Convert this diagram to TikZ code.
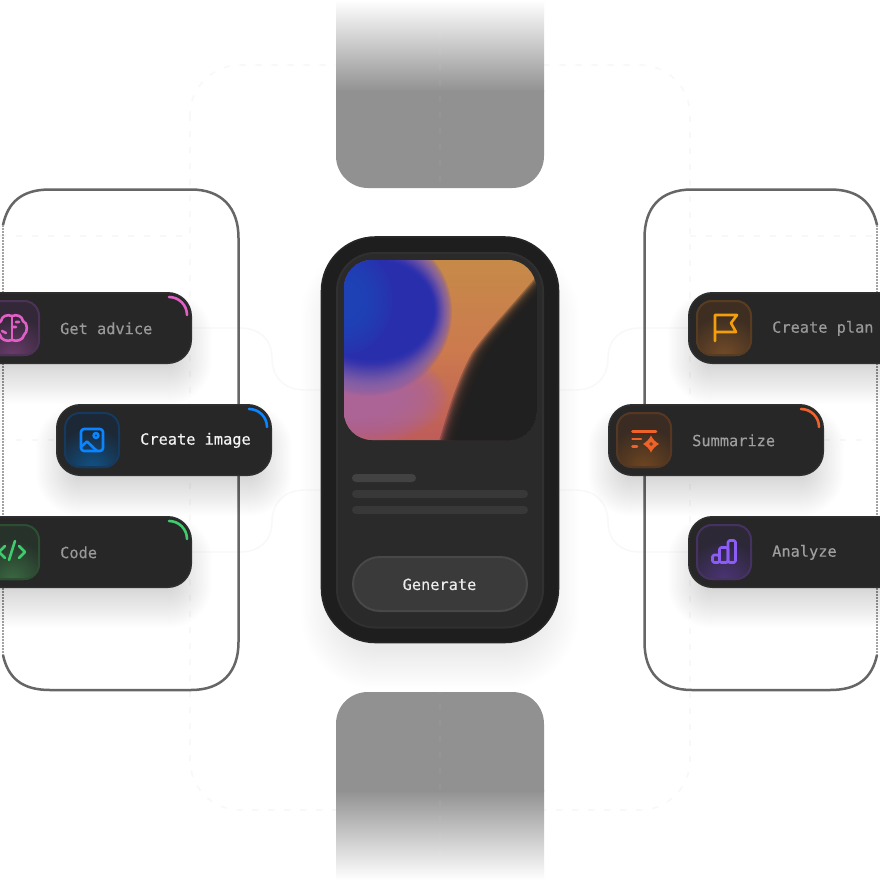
\documentclass[tikz,border=0pt]{standalone}
\usepackage{fontspec}
\setmonofont[FakeBold=0.25]{DejaVu Sans Mono}
\usetikzlibrary{shapes.geometric}
\definecolor{cardfill}{HTML}{272727}
\definecolor{cardedge}{HTML}{2F2F2F}
\definecolor{framecol}{HTML}{666666}
\definecolor{faintcol}{HTML}{F8F8F8}
\definecolor{blockcol}{HTML}{919191}
\definecolor{phoneout}{HTML}{1E1E1E}
\definecolor{phoneedge}{HTML}{262626}
\definecolor{phonein}{HTML}{2A2A2A}
\definecolor{phoneinedge}{HTML}{303030}
\definecolor{btnfill}{HTML}{3A3A3A}
\definecolor{btnedge}{HTML}{484848}
\definecolor{darkimg}{HTML}{202020}
\definecolor{cpink}{HTML}{E25FC6}
\definecolor{cblue}{HTML}{0A84FF}
\definecolor{cgreen}{HTML}{3FCB6E}
\definecolor{cred}{HTML}{F0622A}
\definecolor{camber}{HTML}{F59E0B}
\definecolor{cviolet}{HTML}{8B5CF6}
\definecolor{imgtop}{RGB}{198,138,72}
\definecolor{imgmid}{RGB}{204,122,78}
\definecolor{imgbot}{RGB}{190,92,90}
\definecolor{imgpink}{RGB}{172,100,160}
\definecolor{imghalo}{RGB}{128,96,170}
\definecolor{imgblue}{RGB}{32,44,178}
\definecolor{imgleft}{RGB}{30,76,190}
\definecolor{lineA}{RGB}{66,66,66}
\definecolor{lineB}{RGB}{56,56,56}
\definecolor{pinkA}{RGB}{50,40,56}\definecolor{pinkB}{RGB}{76,50,86}\definecolor{pinkC}{RGB}{108,60,108}
\definecolor{blueA}{RGB}{28,40,54}\definecolor{blueB}{RGB}{22,58,94}\definecolor{blueC}{RGB}{16,82,136}
\definecolor{greenA}{RGB}{38,50,42}\definecolor{greenB}{RGB}{46,78,52}\definecolor{greenC}{RGB}{58,106,66}
\definecolor{flagA}{RGB}{62,46,34}\definecolor{flagB}{RGB}{88,60,34}\definecolor{flagC}{RGB}{116,76,40}
\definecolor{sumA}{RGB}{58,44,34}\definecolor{sumB}{RGB}{86,56,34}\definecolor{sumC}{RGB}{112,70,32}
\definecolor{violA}{RGB}{44,40,54}\definecolor{violB}{RGB}{70,50,96}\definecolor{violC}{RGB}{76,52,120}
\tikzset{
  x=1pt,y=-1pt,
  card/.style={fill=cardfill,draw=cardedge,line width=1.5pt},
  lbl/.style={anchor=west,inner sep=0pt,text=#1,font=\ttfamily\fontsize{15.3}{15.3}\selectfont},
  accent/.style={draw=#1,line width=2.6pt,line cap=round},
  glyph/.style={draw=#1,line width=2.6pt,line cap=round,line join=round},
  faint/.style={draw=faintcol,line width=1.4pt},
  fdash/.style={draw=faintcol,line width=1.6pt,dash pattern=on 6pt off 10pt},
}
% soft shadow under a rounded rectangle
\newcommand{\softshadow}[7]{% x1 y1 x2 y2 radius dy opacity
  \foreach \ss in {-18,-16,...,20}{
    \pgfmathsetmacro{\rr}{max(#5+\ss,2)}
    \fill[black,opacity=#7,rounded corners=\rr pt]
      (#1-\ss,#2-\ss+#6) rectangle (#3+\ss,#4+\ss+#6);
  }
}
% left, top, label, text colour, icon base, icon edge, icon glow, node name
\newcommand{\featcard}[8]{%
  \softshadow{#1}{#2}{#1+216}{#2+72}{24}{20}{0.0085}
  \fill[card,rounded corners=23.5pt] (#1+.75,#2+.75) rectangle (#1+215.25,#2+71.25);
  \begin{scope}
    \clip[rounded corners=16pt] (#1+8,#2+8) rectangle (#1+64,#2+64);
    \fill[#5] (#1+8,#2+8) rectangle (#1+64,#2+64);
    \shade[inner color=#7,outer color=#5] (#1+36,#2+64) circle (40pt);
  \end{scope}
  \draw[#6,line width=2pt,rounded corners=15pt] (#1+9,#2+9) rectangle (#1+63,#2+63);
  \node[lbl=#4] (#8) at (#1+84,#2+36.4) {#3};
}
\begin{document}
\begin{tikzpicture}
\useasboundingbox (0,0) rectangle (880,880);
\clip (0,0) rectangle (880,880);
\fill[white] (0,0) rectangle (880,880);

% faint construction lines
\draw[fdash,rounded corners=50pt] (190,65) rectangle (690,810);
\draw[fdash] (0,236) -- (190,236);
\draw[fdash] (690,236) -- (880,236);
\draw[fdash] (0,440) -- (56,440);
\draw[fdash] (824,440) -- (880,440);
\draw[faint] (192,328) -- (240,328) .. controls (260,328) and (272,340) .. (272,358)
  .. controls (272,378) and (285,390) .. (305,390) -- (322,390);
\draw[faint] (192,552) -- (240,552) .. controls (260,552) and (272,540) .. (272,522)
  .. controls (272,502) and (285,490) .. (305,490) -- (322,490);
\draw[faint] (688,328) -- (640,328) .. controls (620,328) and (608,340) .. (608,358)
  .. controls (608,378) and (595,390) .. (575,390) -- (558,390);
\draw[faint] (688,552) -- (640,552) .. controls (620,552) and (608,540) .. (608,522)
  .. controls (608,502) and (595,490) .. (575,490) -- (558,490);

% grey blocks
\path[top color=white,bottom color=blockcol] (336,0) rectangle (544,92);
\fill[blockcol] (336,91) -- (336,156) arc[start angle=180,end angle=270,radius=32pt] -- (512,188)
  arc[start angle=270,end angle=360,radius=32pt] -- (544,91) -- cycle;
\path[top color=blockcol,bottom color=white] (336,790) rectangle (544,880);
\fill[blockcol] (336,791) -- (336,724) .. controls (336,706) and (350,692) .. (368,692) -- (512,692)
  .. controls (530,692) and (544,706) .. (544,724) -- (544,791) -- cycle;
\draw[white,opacity=.04,line width=1.6pt,dash pattern=on 6pt off 10pt] (440,0) -- (440,880);

% side frames
\draw[framecol,line width=2.5pt] (50,189.5) -- (191,189.5) .. controls (222,189.5) and (238.5,208) .. (238.5,238)
  -- (238.5,642) .. controls (238.5,672) and (222,690) .. (191,690) -- (50,690)
  .. controls (22,690) and (8,678) .. (3,655);
\draw[framecol,line width=2.5pt] (50,189.5) .. controls (22,189.5) and (8,202) .. (3,225);
\draw[framecol!60,line width=2pt,dash pattern=on 1.5pt off 1.5pt] (3,225) -- (3,655);
\draw[framecol,line width=2.5pt] (830,189.5) -- (692,189.5) .. controls (660,189.5) and (644.5,208) .. (644.5,238)
  -- (644.5,642) .. controls (644.5,672) and (660,690) .. (692,690) -- (830,690)
  .. controls (858,690) and (872,678) .. (877,655);
\draw[framecol,line width=2.5pt] (830,189.5) .. controls (858,189.5) and (872,202) .. (877,225);
\draw[framecol!60,line width=2pt,dash pattern=on 1.5pt off 1.5pt] (877,225) -- (877,655);

% phone
\softshadow{321}{236}{559}{643}{56}{26}{0.0045}
\fill[phoneout,draw=phoneedge,line width=1.6pt,rounded corners=54pt] (321.5,237) rectangle (558.5,642.5);
\fill[phonein,draw=phoneinedge,line width=2pt,rounded corners=38pt] (337,253) rectangle (543,627.5);

% artwork
\begin{scope}
  \clip[rounded corners=28pt] (344,260) rectangle (536,440);
  \path[top color=imgtop,bottom color=imgbot,middle color=imgmid] (344,260) rectangle (536,440);
  % pink glow, lower left
  \foreach \i in {0,...,15}{
    \pgfmathsetmacro{\s}{1.35-\i*0.055}
    \fill[imgpink,opacity=.15] (358,396) ellipse[x radius=66*\s pt,y radius=36*\s pt];
  }
  % blue disc: the outer layers hang lower and paler
  \foreach \i in {0,...,29}{
    \pgfmathsetmacro{\t}{\i/29}
    \pgfmathsetmacro{\rx}{84-22*\t}
    \pgfmathsetmacro{\ry}{84-34*\t}
    \pgfmathsetmacro{\cy}{312-2*\t}
    \pgfmathsetmacro{\cx}{368+4*\t}
    \pgfmathsetmacro{\p}{min(100,max(0,170*\t-40))}
    \fill[imgblue!\p!imghalo,opacity=.16] (\cx,\cy) ellipse[x radius=\rx pt,y radius=\ry pt];
  }
  % brighter blue towards the left edge
  \foreach \i in {0,...,9}{
    \pgfmathsetmacro{\s}{1.0-\i*0.07}
    \fill[imgleft,opacity=.12] (344,300) ellipse[x radius=48*\s pt,y radius=54*\s pt];
  }
  % dark wedge
  \foreach \i in {0,...,9}{
    \pgfmathsetmacro{\ds}{(\i-5)*1.6}
    \begin{scope}[xshift=\ds pt]
      \fill[darkimg,opacity=.3] (548,272) .. controls (520,306) and (494,332) .. (480,353)
        .. controls (466,378) and (456,410) .. (446,445) -- (560,445) -- (560,272) -- cycle;
    \end{scope}
  }
  \fill[darkimg] (556,272) .. controls (528,306) and (502,332) .. (488,353)
        .. controls (474,378) and (464,410) .. (454,445) -- (560,445) -- (560,272) -- cycle;
\end{scope}

% text lines
\fill[lineA,rounded corners=4pt] (352,474) rectangle (416,482);
\fill[lineB,rounded corners=4pt] (352,490) rectangle (528,498);
\fill[lineB,rounded corners=4pt] (352,506) rectangle (528,514);

% button
\fill[btnfill,draw=btnedge,line width=2pt,rounded corners=27pt] (353,557) rectangle (527,611);
\node[lbl=white!92!black,anchor=center] (generate) at (439.5,584.4) {Generate};

% cards
\featcard{-24}{292}{Get advice}{white!60!black}{pinkA}{pinkB}{pinkC}{advice}
\draw[accent=cpink] (169,297) arc[start angle=90,end angle=0,radius=18pt];
\featcard{56}{404}{Create image}{white!96!black}{blueA}{blueB}{blueC}{image}
\draw[accent=cblue] (249,409) arc[start angle=90,end angle=0,radius=18pt];
\featcard{-24}{516}{Code}{white!60!black}{greenA}{greenB}{greenC}{code}
\draw[accent=cgreen] (169,521) arc[start angle=90,end angle=0,radius=18pt];
\featcard{688}{292}{Create plan}{white!60!black}{flagA}{flagB}{flagC}{plan}
\featcard{608}{404}{Summarize}{white!62!black}{sumA}{sumB}{sumC}{summarize}
\draw[accent=cred] (801,409) arc[start angle=90,end angle=0,radius=18pt];
\featcard{688}{516}{Analyze}{white!62!black}{violA}{violB}{violC}{analyze}

% icon: brain
\draw[glyph=cpink] (12,316) .. controls (7,314) and (2,316) .. (1,321) .. controls (-4,323) and (-4,332) .. (0,335)
   .. controls (1,340) and (7,342) .. (12,340) .. controls (17,342) and (23,340) .. (24,335)
   .. controls (28,332) and (28,323) .. (23,321) .. controls (22,316) and (17,314) .. (12,316) -- cycle;
\draw[glyph=cpink] (12,316) -- (12,340);
\draw[glyph=cpink] (12,327) -- (16,327) (19,322) -- (16,322) (6,333) -- (2,331);
% icon: picture
\draw[glyph=cblue,rounded corners=3pt] (81,429) rectangle (103,451);
\draw[glyph=cblue] (96,435.5) circle (2.4pt);
\draw[glyph=cblue] (81,447) -- (87,441.5) -- (97,451);
% icon: code
\draw[glyph=cgreen] (5,546) -- (-1,552) -- (5,558);
\draw[glyph=cgreen] (19,546) -- (25,552) -- (19,558);
\draw[glyph=cgreen] (15,541) -- (9,560);
% icon: flag
\draw[glyph=camber] (715,341) -- (715,315) -- (737,315) -- (731,323) -- (736,332) -- (715,332);
% icon: summarize
\draw[glyph=cred] (632.5,431.5) -- (656,431.5);
\draw[glyph=cred] (632.5,439) -- (641,439);
\draw[glyph=cred] (632.5,446.5) -- (637,446.5);
\fill[cred] (651,435.5) .. controls (652.5,439) and (655.5,442) .. (659,444) .. controls (655.5,446) and (652.5,449) .. (651,452.5)
   .. controls (649.5,449) and (646.5,446) .. (643,444) .. controls (646.5,442) and (649.5,439) .. (651,435.5) -- cycle;
\fill[sumC] (651,442) -- (653,444) -- (651,446) -- (649,444) -- cycle;
% icon: bars
\draw[glyph=cviolet,line cap=butt,rounded corners=1.5pt] (712.5,562.5) rectangle (719.5,555);
\draw[glyph=cviolet,line cap=butt,rounded corners=1.5pt] (719.5,562.5) rectangle (728,547.5);
\draw[glyph=cviolet,line cap=butt,rounded corners=1.5pt] (728,562.5) rectangle (735.5,540.5);
\end{tikzpicture}
\end{document}
